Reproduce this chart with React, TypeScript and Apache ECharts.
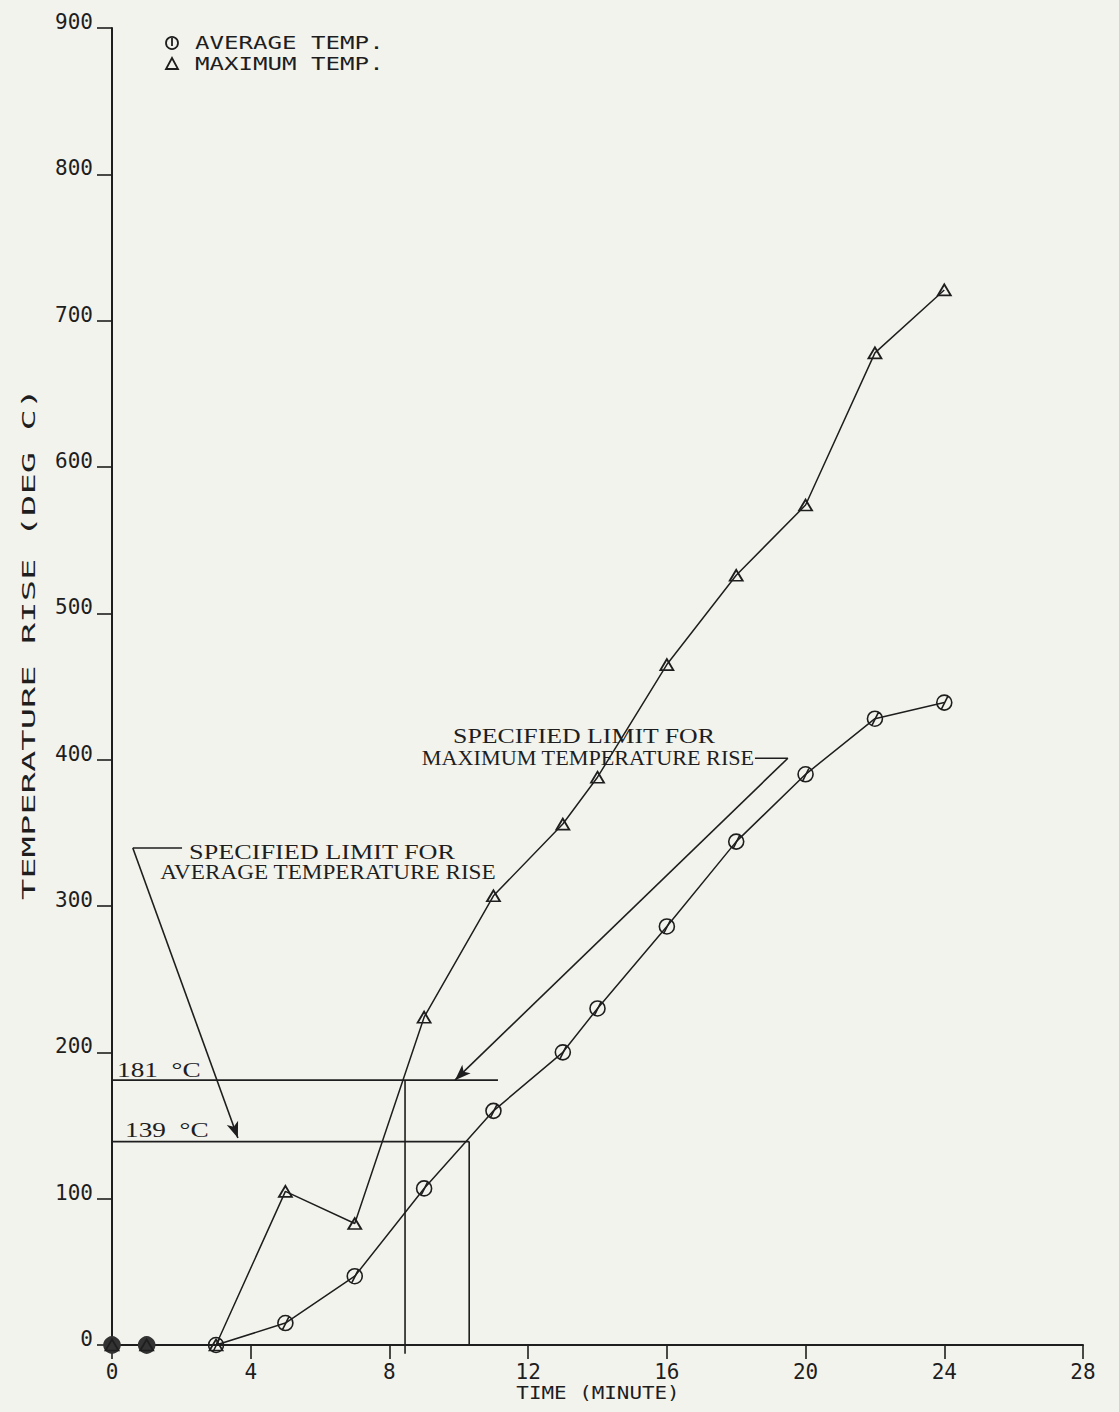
import React, { useEffect, useRef } from "react";
import * as echarts from "echarts";

// ---- data ----
const minutes = [0, 1, 3, 5, 7, 9, 11, 13, 14, 16, 18, 20, 22, 24];
const avgTemp = [0, 0, 0, 15, 47, 107, 160, 200, 230, 286, 344, 390, 428, 439];
const maxTemp = [0, 0, 0, 105, 83, 224, 307, 356, 388, 465, 526, 574, 678, 721];

const limitAvg = 139;
const limitMax = 181;
const crossAvgMinute = 10.3;
const crossMaxMinute = 8.45;

const xTicks = [0, 4, 8, 12, 16, 20, 24, 28];
const yTicks = [0, 100, 200, 300, 400, 500, 600, 700, 800, 900];

const legendLabels = ["AVERAGE TEMP.", "MAXIMUM TEMP."];
const xTitle = "TIME (MINUTE)";
const yTitle = "TEMPERATURE RISE (DEG C)";
const avgCallout = ["SPECIFIED LIMIT FOR", "AVERAGE TEMPERATURE RISE"];
const maxCallout = ["SPECIFIED LIMIT FOR", "MAXIMUM TEMPERATURE RISE"];
const limitLabels = ["181  °C", "139  °C"];

// annotation geometry in data coordinates
const limitMaxLine = [[-0.4, limitMax], [11.13, limitMax]];
const limitAvgLine = [[-0.4, limitAvg], [crossAvgMinute, limitAvg]];
const crossMaxLine = [[crossMaxMinute, limitMax], [crossMaxMinute, -6]];
const crossAvgLine = [[crossAvgMinute, limitAvg], [crossAvgMinute, 0]];
const avgLeader = [[2.02, 339.6], [0.6, 339.6]];
const avgArrow = [[0.6, 339.6], [3.63, 141.5]];
const maxLeader = [[18.54, 401], [19.49, 401]];
const maxArrow = [[19.49, 401], [9.89, 181]];

const INK = "#1e1e1e";
const BG = "#f3f3ee";
const MONO = "'DejaVu Sans Mono', monospace";
const SERIF = "'Liberation Serif', 'DejaVu Serif', serif";

const slashCircle =
  "path://M0,-10A10,10,0,1,1,0,10A10,10,0,1,1,0,-10ZM-4,9L5,-9";

export default function App() {
  const ref = useRef<HTMLDivElement>(null);

  useEffect(() => {
    document.body.style.margin = "0";
    if (!ref.current) return;
    const chart = echarts.init(ref.current, undefined, { renderer: "svg" });

    const segSeries = (name: string, pts: number[][]) => ({
      name,
      type: "line",
      data: pts,
      clip: false,
      symbol: "none",
      silent: true,
      lineStyle: { color: INK, width: 1.6 },
      z: 3,
    });

    const arrowSeries = (name: string, pts: number[][]) => ({
      name,
      type: "line",
      data: [],
      clip: false,
      silent: true,
      markLine: {
        silent: true,
        symbol: ["none", "arrow"],
        symbolSize: [9, 16],
        label: { show: false },
        lineStyle: { color: INK, width: 1.6, type: "solid" },
        data: [[{ coord: pts[0] }, { coord: pts[1] }]],
      },
    });

    const avgData = minutes.map((m, i) =>
      i < 2
        ? { value: [m, avgTemp[i]], symbol: "circle", symbolSize: 16, itemStyle: { color: "#333", borderColor: "#333" } }
        : { value: [m, avgTemp[i]] }
    );
    const maxData = minutes.map((m, i) => [m, maxTemp[i]]);

    const textStyle = (text: string, font: string, size: number) => ({
      text,
      fill: INK,
      font: `${size}px ${font}`,
    });

    const serifLine = (text: string, x: number, y: number, sx: number, align = "center") => ({
      type: "text",
      x,
      y,
      scaleX: sx,
      style: { ...textStyle(text, SERIF, 20), align, verticalAlign: "middle" },
    });

    chart.setOption({
      animation: false,
      backgroundColor: BG,
      grid: { left: 112, right: 36, top: 28, bottom: 67, containLabel: false },
      xAxis: {
        type: "value",
        min: 0,
        max: 28,
        interval: 4,
        splitLine: { show: false },
        axisLine: { show: true, onZero: false, lineStyle: { color: INK, width: 2 } },
        axisTick: { show: true, length: 14, lineStyle: { color: INK, width: 1.6 } },
        axisLabel: {
          color: INK,
          fontFamily: MONO,
          fontSize: 21,
          margin: 16,
          formatter: (v: number) => (xTicks.includes(v) ? String(v) : ""),
        },
      },
      yAxis: {
        type: "value",
        min: 0,
        max: 900,
        interval: 100,
        splitLine: { show: false },
        axisLine: { show: true, onZero: false, lineStyle: { color: INK, width: 2 } },
        axisTick: { show: true, length: 15, lineStyle: { color: INK, width: 1.6 } },
        axisLabel: {
          color: INK,
          fontFamily: MONO,
          fontSize: 21,
          margin: 19,
          verticalAlign: "bottom",
          lineHeight: 12,
          formatter: (v: number) => (yTicks.includes(v) ? String(v) : ""),
        },
      },
      series: [
        segSeries("limitMax", limitMaxLine),
        segSeries("limitAvg", limitAvgLine),
        segSeries("crossMax", crossMaxLine),
        segSeries("crossAvg", crossAvgLine),
        segSeries("avgLeader", avgLeader),
        segSeries("maxLeader", maxLeader),
        arrowSeries("avgArrow", avgArrow),
        arrowSeries("maxArrow", maxArrow),
        {
          name: "AVERAGE TEMP.",
          type: "line",
          data: avgData,
          symbol: slashCircle,
          symbolSize: 15,
          showAllSymbol: true,
          lineStyle: { color: INK, width: 1.5 },
          itemStyle: { color: "rgba(0,0,0,0)", borderColor: INK, borderWidth: 1.6 },
          z: 5,
        },
        {
          name: "MAXIMUM TEMP.",
          type: "line",
          data: maxData,
          symbol: "triangle",
          symbolSize: [13, 11],
          showAllSymbol: true,
          lineStyle: { color: INK, width: 1.5 },
          itemStyle: { color: "rgba(0,0,0,0)", borderColor: INK, borderWidth: 1.8 },
          z: 5,
        },
      ],
      graphic: [
        // legend
        {
          type: "circle",
          shape: { cx: 172, cy: 43, r: 6 },
          style: { fill: "none", stroke: INK, lineWidth: 1.8 },
        },
        {
          type: "line",
          shape: { x1: 172, y1: 38, x2: 172, y2: 46 },
          style: { stroke: INK, lineWidth: 1.8 },
        },
        {
          type: "polygon",
          shape: { points: [[172, 58], [178, 69], [166, 69]] },
          style: { fill: "none", stroke: INK, lineWidth: 1.8 },
        },
        {
          type: "text",
          x: 195,
          y: 43,
          scaleX: 1.34,
          style: { ...textStyle(legendLabels[0], MONO, 18), verticalAlign: "middle" },
        },
        {
          type: "text",
          x: 195,
          y: 64,
          scaleX: 1.34,
          style: { ...textStyle(legendLabels[1], MONO, 18), verticalAlign: "middle" },
        },
        // axis titles
        {
          type: "text",
          x: 598,
          y: 1393,
          scaleX: 1.16,
          style: { ...textStyle(xTitle, MONO, 18), align: "center", verticalAlign: "middle" },
        },
        {
          type: "text",
          x: 29,
          y: 644,
          rotation: Math.PI / 2,
          scaleX: 1.97,
          style: { ...textStyle(yTitle, MONO, 18), align: "center", verticalAlign: "middle" },
        },
        // limit labels
        {
          type: "text",
          x: 117,
          y: 1070,
          scaleX: 1.3,
          style: { ...textStyle(limitLabels[0], SERIF, 21), verticalAlign: "middle" },
        },
        {
          type: "text",
          x: 125,
          y: 1130,
          scaleX: 1.3,
          style: { ...textStyle(limitLabels[1], SERIF, 21), verticalAlign: "middle" },
        },
        // callouts
        serifLine(avgCallout[0], 322, 852, 1.31),
        serifLine(avgCallout[1], 328, 873, 1.16),
        serifLine(maxCallout[0], 584, 736, 1.29),
        serifLine(maxCallout[1], 588, 758, 1.11),
      ],
    });

    return () => chart.dispose();
  }, []);

  return <div ref={ref} style={{ width: 1119, height: 1412 }} />;
}
